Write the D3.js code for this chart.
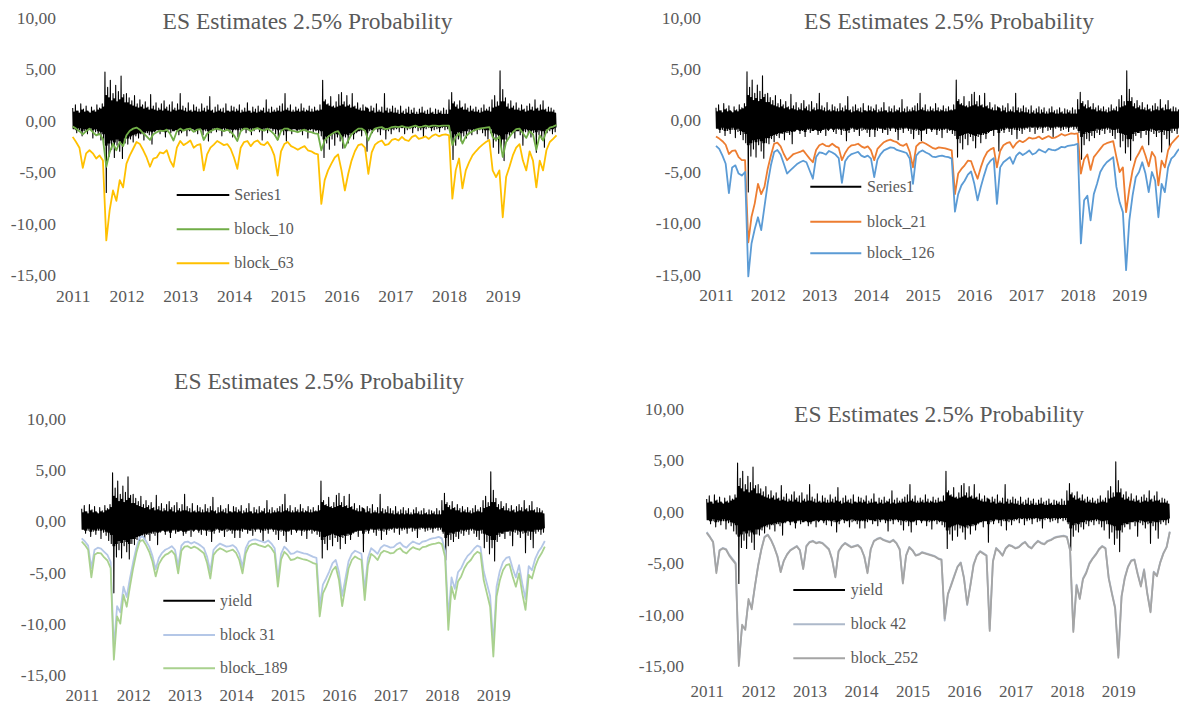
<!DOCTYPE html>
<html><head><meta charset="utf-8">
<script src="https://cdn.jsdelivr.net/npm/d3@7"></script>
<style>html,body{margin:0;padding:0;background:#fff;}svg{display:block;}</style>
</head><body><svg id="c" width="1179" height="705"></svg>
<script>
// ---------- data ----------
const yearTicks = [2011, 2012, 2013, 2014, 2015, 2016, 2017, 2018, 2019];
const valueTicks = [-15, -10, -5, 0, 5, 10];
const chartTitle = "ES Estimates 2.5% Probability";

// daily yield, summarised per 1/20 year (2011.00 ... 2019.95): upper spike, lower spike, dense core swing
const yieldHi = [
 1.2, 1.5, 0.9, 1.6, 1.1, 1.4, 0.8, 1.3, 1.0, 1.5, 1.2, 1.6, 4.7, 3.2, 3.9, 2.6, 3.4, 2.8, 4.3, 2.5,
 2.6, 2.2, 1.9, 2.4, 1.6, 2.0, 1.5, 1.8, 1.3, 2.5, 1.4, 1.7, 1.2, 1.6, 1.9, 1.3, 1.5, 1.8, 1.2, 1.6,
 2.6, 1.4, 1.2, 1.7, 1.0, 1.5, 1.3, 1.1, 1.6, 1.2, 1.4, 2.3, 1.0, 1.3, 1.5, 1.1, 1.2, 1.6, 0.9, 1.4,
 1.3, 1.1, 1.5, 1.0, 1.2, 1.7, 0.9, 1.3, 1.1, 1.4, 1.0, 1.2, 2.0, 1.1, 1.3, 1.0, 1.2, 1.4, 1.6, 2.6,
 1.2, 1.5, 1.0, 1.3, 1.1, 1.6, 1.2, 1.0, 1.4, 1.1, 1.3, 1.0, 1.5, 3.9, 2.0, 1.6, 2.3, 1.4, 1.8, 2.5,
 2.7, 1.8, 2.4, 1.5, 2.6, 1.4, 1.7, 1.2, 1.5, 1.3, 1.1, 1.4, 1.2, 1.6, 1.0, 1.3, 2.6, 1.2, 1.1, 1.4,
 1.2, 1.0, 1.4, 0.9, 1.1, 1.3, 1.0, 1.2, 0.8, 1.1, 1.3, 0.9, 1.0, 1.2, 0.8, 1.1, 1.0, 0.9, 1.2, 1.0,
 2.0, 2.7, 1.8, 1.5, 1.9, 1.3, 1.6, 1.2, 1.4, 1.1, 1.3, 1.0, 1.2, 1.5, 1.1, 1.3, 2.0, 2.4, 1.8, 4.8,
 3.0, 2.2, 1.6, 1.9, 1.4, 1.7, 1.2, 1.5, 1.1, 1.4, 1.6, 1.3, 2.0, 1.2, 1.5, 1.9, 1.1, 1.3, 1.2, 1.0
];
const yieldLo = [
 -0.8, -1.2, -0.9, -1.5, -1.0, -1.3, -0.9, -1.7, -1.1, -1.4, -1.9, -2.2, -7.0, -3.5, -2.8, -3.6, -2.4, -3.0, -3.7, -2.2,
 -2.3, -1.8, -2.1, -1.5, -1.7, -1.2, -1.9, -1.0, -1.4, -2.3, -1.1, -0.9, -1.3, -1.0, -1.6, -0.8, -1.2, -1.0, -0.9, -1.4,
 -1.2, -0.9, -1.5, -1.0, -0.8, -1.1, -1.3, -0.9, -1.4, -1.0, -2.0, -1.2, -0.8, -1.1, -0.9, -1.5, -1.0, -0.8, -1.2, -1.6,
 -0.9, -1.6, -1.0, -0.8, -1.2, -0.9, -1.4, -1.0, -0.8, -1.1, -1.9, -0.9, -1.2, -0.8, -1.0, -1.3, -1.8, -1.0, -1.4, -2.0,
 -1.0, -1.3, -0.8, -1.1, -0.9, -1.4, -1.0, -1.7, -0.9, -1.2, -1.0, -1.3, -1.5, -3.6, -2.2, -2.8, -1.8, -2.4, -1.6, -2.0,
 -2.7, -1.6, -2.2, -1.4, -1.8, -1.2, -1.0, -1.5, -0.9, -3.0, -1.0, -1.2, -0.8, -1.1, -1.4, -0.9, -1.8, -1.0, -1.3, -0.9,
 -0.8, -1.1, -0.7, -1.3, -0.9, -0.8, -1.2, -0.7, -1.0, -0.9, -1.6, -0.8, -0.7, -1.0, -0.9, -0.8, -1.1, -0.7, -0.9, -0.8,
 -1.2, -3.8, -2.4, -1.8, -2.0, -1.5, -1.7, -1.2, -1.4, -1.0, -1.3, -0.9, -1.2, -1.5, -1.8, -1.2, -2.6, -2.0, -3.2, -2.6,
 -3.9, -2.0, -1.5, -1.2, -1.7, -1.0, -1.4, -2.4, -1.1, -1.3, -1.6, -1.2, -3.1, -1.4, -1.8, -2.6, -1.2, -1.0, -1.3, -1.1
];
const yieldCore = [
 0.8, 0.9, 0.7, 1.0, 0.8, 0.9, 0.7, 0.9, 0.8, 1.0, 1.1, 1.3, 2.4, 2.2, 1.9, 2.1, 1.8, 2.0, 2.2, 1.7,
 1.7, 1.5, 1.4, 1.3, 1.2, 1.3, 1.1, 1.2, 1.0, 1.1, 1.0, 0.9, 1.0, 0.9, 1.1, 0.9, 0.8, 1.0, 0.9, 1.0,
 1.0, 0.9, 0.8, 0.9, 0.8, 0.9, 0.8, 0.8, 0.9, 0.8, 1.0, 0.9, 0.7, 0.8, 0.9, 0.8, 0.7, 0.9, 0.8, 0.9,
 0.8, 0.9, 0.7, 0.8, 0.8, 0.9, 0.7, 0.8, 0.7, 0.8, 0.9, 0.7, 0.8, 0.7, 0.8, 0.8, 0.9, 0.8, 0.9, 1.0,
 0.9, 0.8, 0.8, 0.9, 0.8, 0.9, 0.8, 0.9, 0.8, 0.8, 0.9, 0.9, 1.0, 1.8, 1.5, 1.4, 1.3, 1.2, 1.3, 1.4,
 1.5, 1.3, 1.4, 1.2, 1.3, 1.1, 1.0, 0.9, 0.9, 1.2, 0.8, 0.9, 0.7, 0.8, 0.8, 0.7, 0.9, 0.7, 0.8, 0.7,
 0.7, 0.6, 0.7, 0.6, 0.7, 0.6, 0.7, 0.6, 0.6, 0.7, 0.7, 0.6, 0.6, 0.7, 0.6, 0.6, 0.7, 0.6, 0.6, 0.6,
 1.0, 1.6, 1.3, 1.1, 1.2, 1.0, 1.0, 0.8, 0.9, 0.8, 0.8, 0.7, 0.8, 0.9, 0.9, 0.8, 1.2, 1.3, 1.4, 1.8,
 1.8, 1.3, 1.1, 1.2, 1.0, 1.0, 0.9, 1.0, 0.8, 0.9, 1.0, 0.9, 1.1, 0.9, 1.0, 1.0, 0.8, 0.8, 0.8, 0.7
];

// ES estimates, one value per 1/16 year (2011.0000 ... 2020.0000)
const block_10 = [
 -0.6, -0.8, -1.05, -1.35, -1.05, -0.8, -1.15, -1.45, -1.3, -1.8, -4.5, -3.1, -2.25, -2.9, -2.1, -2.5,
 -1.45, -1.0, -0.8, -0.7, -0.9, -1.25, -1.55, -1.9, -1.35, -1.15, -1.0, -1.05, -0.9, -1.3, -1.95, -1.05,
 -0.8, -1.0, -0.85, -0.8, -1.1, -0.9, -0.85, -1.9, -1.3, -1.05, -0.9, -0.8, -0.9, -1.05, -0.9, -1.1,
 -1.45, -2.0, -1.05, -0.8, -0.8, -1.05, -0.85, -0.75, -0.9, -1.0, -0.8, -1.05, -1.35, -1.9, -1.05, -0.8,
 -0.8, -1.0, -1.05, -1.15, -1.0, -0.9, -1.1, -1.15, -1.25, -1.3, -2.9, -1.95, -1.6, -1.35, -1.15, -1.05,
 -1.6, -2.65, -1.95, -1.35, -1.05, -0.8, -0.8, -1.0, -1.95, -1.15, -0.8, -0.7, -0.65, -0.85, -0.8, -0.65,
 -0.6, -0.65, -0.55, -0.65, -0.7, -0.6, -0.5, -0.65, -0.6, -0.5, -0.6, -0.5, -0.5, -0.55, -0.5, -0.5,
 -0.5, -2.4, -1.6, -1.25, -2.25, -1.55, -1.25, -1.05, -0.9, -0.8, -0.75, -0.7, -0.65, -1.6, -1.9, -1.55,
 -3.55, -2.1, -1.6, -1.15, -0.85, -0.8, -1.25, -1.7, -1.05, -1.35, -2.85, -1.45, -1.95, -1.05, -0.7, -0.6,
 -0.45
];
const block_63 = [
 -1.6, -2.1, -2.65, -4.6, -3.2, -2.9, -3.2, -3.7, -3.4, -3.9, -11.65, -8.7, -6.8, -7.8, -5.8, -6.5,
 -4.2, -3.4, -2.75, -2.1, -2.3, -2.9, -3.6, -4.5, -3.7, -3.6, -3.1, -3.2, -2.9, -3.9, -4.5, -2.65,
 -2.0, -2.4, -2.2, -1.95, -2.65, -2.4, -2.3, -4.85, -3.3, -2.65, -2.35, -2.0, -2.2, -2.4, -2.3, -2.75,
 -3.6, -4.7, -2.65, -2.1, -2.0, -2.5, -2.1, -1.95, -2.3, -2.4, -2.1, -2.6, -3.4, -5.35, -3.0, -2.3,
 -2.1, -2.5, -2.65, -2.85, -2.65, -2.5, -2.9, -3.0, -3.2, -3.3, -8.1, -5.8, -4.85, -4.2, -3.6, -3.3,
 -4.85, -6.8, -5.2, -3.9, -3.0, -2.4, -2.3, -2.65, -5.2, -3.1, -2.35, -2.1, -1.95, -2.4, -2.3, -1.9,
 -1.8, -1.95, -1.6, -1.9, -2.0, -1.6, -1.45, -1.8, -1.7, -1.55, -1.8, -1.5, -1.35, -1.55, -1.4, -1.35,
 -1.45, -7.6, -4.85, -3.7, -6.6, -4.85, -4.05, -3.4, -3.0, -2.65, -2.35, -2.1, -1.9, -4.85, -5.5, -4.85,
 -9.4, -5.5, -4.5, -3.4, -2.65, -2.3, -3.9, -4.85, -3.0, -3.9, -6.5, -3.9, -4.85, -2.9, -2.1, -1.8,
 -1.45
];
const block_21 = [
 -1.6, -1.8, -2.05, -2.4, -3.3, -3.0, -2.95, -3.6, -3.9, -3.9, -11.9, -9.4, -8.1, -6.2, -7.2, -6.5,
 -4.75, -3.45, -2.3, -2.2, -2.55, -3.3, -3.9, -3.6, -3.3, -3.2, -3.1, -2.95, -3.35, -3.75, -4.1, -2.9,
 -2.45, -2.3, -2.5, -2.55, -2.3, -2.55, -2.7, -3.9, -3.2, -2.7, -2.45, -2.4, -2.3, -2.55, -2.7, -2.55,
 -2.95, -3.9, -2.8, -2.45, -2.15, -2.0, -1.9, -2.05, -2.15, -2.4, -2.5, -2.3, -3.1, -4.6, -2.55, -2.25,
 -2.15, -2.3, -2.5, -2.7, -2.8, -2.65, -2.7, -2.75, -2.85, -2.95, -7.2, -5.2, -4.75, -4.4, -3.95, -4.0,
 -4.9, -5.7, -4.6, -3.7, -3.1, -2.85, -2.7, -4.6, -3.0, -2.45, -2.25, -2.15, -2.7, -2.25, -2.0, -2.15,
 -1.95, -1.7, -1.8, -1.75, -1.6, -1.85, -1.7, -1.55, -1.75, -1.7, -1.55, -1.35, -1.5, -1.4, -1.3, -1.35,
 -1.3, -5.2, -3.8, -3.35, -4.85, -3.6, -3.2, -2.8, -2.4, -2.25, -2.15, -2.05, -3.6, -5.05, -4.6, -8.95,
 -6.7, -4.9, -3.75, -3.2, -2.55, -3.45, -4.5, -3.1, -3.6, -6.35, -3.95, -4.6, -2.95, -2.3, -1.95, -1.6,
 -1.4
];
const block_126 = [
 -2.5, -2.8, -3.45, -4.25, -7.1, -4.6, -4.4, -5.2, -5.4, -5.05, -15.2, -12.0, -10.6, -9.45, -10.7, -8.45,
 -6.2, -4.4, -3.1, -2.9, -3.35, -4.25, -5.2, -4.9, -4.6, -4.3, -4.1, -3.95, -4.1, -4.9, -5.7, -3.6,
 -3.15, -3.2, -3.35, -3.0, -3.15, -3.35, -3.7, -6.1, -4.0, -3.55, -3.3, -3.2, -3.1, -3.45, -3.6, -3.45,
 -3.75, -5.55, -3.85, -3.3, -2.95, -2.8, -2.65, -2.7, -2.9, -3.0, -3.1, -3.2, -3.75, -6.2, -3.45, -3.1,
 -2.95, -3.15, -3.3, -3.55, -3.6, -3.5, -3.45, -3.55, -3.6, -3.75, -8.9, -7.2, -6.35, -5.9, -5.3, -5.0,
 -6.2, -7.8, -6.5, -5.4, -4.4, -3.95, -3.7, -8.15, -4.6, -4.1, -3.85, -3.6, -4.25, -3.45, -3.15, -3.4,
 -3.2, -2.95, -3.35, -3.2, -2.85, -3.0, -3.15, -2.8, -2.9, -2.95, -2.8, -2.6, -2.65, -2.5, -2.45, -2.4,
 -2.3, -12.0, -7.8, -7.35, -9.75, -7.2, -6.2, -5.05, -4.5, -4.1, -3.85, -3.6, -6.5, -8.0, -8.95, -14.6,
 -9.75, -7.35, -5.55, -5.05, -4.1, -5.2, -7.0, -5.05, -5.9, -9.45, -6.2, -7.0, -4.6, -3.75, -3.45, -2.95,
 -2.7
];
const block_31 = [
 -1.7, -2.0, -2.4, -4.6, -2.8, -2.6, -2.7, -3.0, -3.3, -4.0, -12.4, -8.3, -8.9, -6.4, -7.4, -5.6,
 -4.0, -2.6, -1.6, -1.5, -1.95, -2.5, -3.4, -4.7, -3.6, -3.1, -2.8, -2.65, -2.45, -2.8, -4.4, -2.4,
 -2.05, -2.0, -2.2, -2.05, -2.2, -2.4, -2.65, -3.5, -4.9, -2.8, -2.45, -2.2, -2.35, -2.5, -2.45, -2.35,
 -2.6, -3.2, -4.5, -2.65, -2.0, -1.85, -1.8, -1.9, -2.0, -2.1, -1.9, -2.2, -2.65, -5.6, -3.2, -2.5,
 -2.8, -3.2, -3.15, -2.95, -3.05, -3.15, -3.2, -3.35, -3.5, -3.6, -8.3, -6.2, -5.6, -4.9, -4.1, -3.8,
 -5.0, -7.3, -5.6, -3.9, -3.2, -2.9, -3.05, -3.2, -6.8, -3.6, -2.65, -2.9, -3.2, -2.6, -2.35, -2.45,
 -2.6, -2.55, -2.25, -2.1, -2.45, -2.6, -2.25, -2.0, -2.15, -2.25, -2.0, -1.95, -1.8, -1.7, -1.65, -1.55,
 -1.7, -2.9, -9.4, -5.5, -6.6, -5.0, -4.6, -3.9, -3.4, -3.1, -2.7, -2.4, -2.55, -4.9, -6.1, -7.3,
 -12.0, -6.4, -4.9, -4.0, -3.6, -3.5, -4.6, -5.5, -4.3, -6.1, -7.6, -4.4, -4.8, -3.7, -3.0, -2.55,
 -1.95
];
const block_189 = [
 -2.0, -2.35, -2.8, -5.5, -3.3, -3.1, -3.15, -3.55, -3.85, -4.6, -13.5, -9.3, -10.0, -7.2, -8.35, -6.4,
 -4.6, -3.1, -2.0, -1.85, -2.35, -3.0, -3.95, -5.4, -4.2, -3.65, -3.3, -3.15, -2.9, -3.3, -5.1, -2.9,
 -2.5, -2.45, -2.65, -2.5, -2.65, -2.9, -3.15, -4.1, -5.6, -3.3, -2.9, -2.65, -2.8, -3.0, -2.9, -2.8,
 -3.1, -3.8, -5.1, -3.15, -2.45, -2.25, -2.2, -2.35, -2.45, -2.55, -2.35, -2.65, -3.15, -6.4, -3.75, -3.0,
 -3.3, -3.8, -3.75, -3.55, -3.65, -3.75, -3.8, -3.95, -4.1, -4.2, -9.3, -7.05, -6.4, -5.6, -4.8, -4.45,
 -5.75, -8.3, -6.4, -4.6, -3.8, -3.45, -3.65, -3.8, -7.7, -4.3, -3.2, -3.45, -3.8, -3.15, -2.9, -3.0,
 -3.15, -3.1, -2.8, -2.65, -3.0, -3.15, -2.8, -2.55, -2.7, -2.8, -2.55, -2.5, -2.35, -2.25, -2.2, -2.1,
 -2.25, -3.5, -10.6, -6.4, -7.6, -5.9, -5.4, -4.6, -4.1, -3.8, -3.3, -3.0, -3.15, -5.75, -7.05, -8.35,
 -13.2, -7.35, -5.8, -4.8, -4.3, -4.2, -5.4, -6.4, -5.1, -7.05, -8.65, -5.25, -5.6, -4.45, -3.65, -3.15,
 -2.5
];
const block_42 = [
 -2.0, -2.45, -2.95, -5.8, -3.75, -3.55, -3.65, -4.2, -4.6, -5.0, -14.6, -11.2, -11.3, -8.7, -9.3, -7.3,
 -5.2, -3.65, -2.45, -2.25, -2.75, -3.45, -4.3, -5.8, -4.75, -4.15, -3.75, -3.55, -3.35, -3.75, -5.5, -3.35,
 -2.95, -2.85, -3.05, -2.95, -3.05, -3.35, -3.65, -4.6, -6.3, -3.85, -3.35, -3.05, -3.25, -3.45, -3.35, -3.25,
 -3.55, -4.35, -5.9, -3.65, -2.85, -2.65, -2.55, -2.75, -2.85, -2.95, -2.75, -3.05, -3.65, -6.9, -4.25, -3.45,
 -3.75, -4.25, -4.15, -3.95, -4.05, -4.15, -4.25, -4.35, -4.55, -4.65, -10.6, -8.1, -7.1, -6.2, -5.35, -4.95,
 -6.4, -9.1, -7.1, -5.1, -4.25, -3.85, -4.05, -4.25, -11.4, -4.8, -3.55, -3.85, -4.25, -3.55, -3.25, -3.35,
 -3.55, -3.45, -3.15, -2.95, -3.35, -3.55, -3.15, -2.85, -3.05, -3.15, -2.85, -2.75, -2.55, -2.45, -2.4, -2.35,
 -2.45, -3.75, -11.5, -7.1, -8.4, -6.5, -5.9, -5.0, -4.55, -4.15, -3.65, -3.35, -3.55, -6.4, -7.9, -9.3,
 -14.0, -8.2, -6.4, -5.35, -4.75, -4.65, -6.0, -7.2, -5.6, -7.9, -9.7, -5.85, -6.2, -4.95, -4.05, -3.45,
 -1.95
];
const block_252 = [
 -2.1, -2.5, -3.0, -6.0, -3.8, -3.6, -3.7, -4.3, -4.7, -5.1, -15.0, -11.0, -11.5, -8.5, -9.5, -7.2,
 -5.3, -3.7, -2.5, -2.3, -2.8, -3.5, -4.4, -5.9, -4.8, -4.2, -3.8, -3.6, -3.4, -3.8, -5.6, -3.4,
 -3.0, -2.9, -3.1, -3.0, -3.1, -3.4, -3.7, -4.7, -6.4, -3.9, -3.4, -3.1, -3.3, -3.5, -3.4, -3.3,
 -3.6, -4.4, -6.0, -3.7, -2.9, -2.7, -2.6, -2.8, -2.9, -3.0, -2.8, -3.1, -3.7, -7.0, -4.3, -3.5,
 -3.8, -4.3, -4.2, -4.0, -4.1, -4.2, -4.3, -4.4, -4.6, -4.7, -10.4, -8.0, -7.2, -6.3, -5.4, -5.0,
 -6.5, -9.0, -7.2, -5.2, -4.3, -3.9, -4.1, -4.3, -11.6, -4.9, -3.6, -3.9, -4.3, -3.6, -3.3, -3.4,
 -3.6, -3.5, -3.2, -3.0, -3.4, -3.6, -3.2, -2.9, -3.1, -3.2, -2.9, -2.8, -2.6, -2.5, -2.45, -2.4,
 -2.5, -3.8, -11.7, -7.2, -8.5, -6.6, -6.0, -5.1, -4.6, -4.2, -3.7, -3.4, -3.6, -6.5, -8.0, -9.4,
 -14.2, -8.3, -6.5, -5.4, -4.8, -4.7, -6.1, -7.3, -5.7, -8.0, -9.8, -5.9, -6.3, -5.0, -4.1, -3.5,
 -2.0
];

// ---------- build series ----------
const esDates = d3.range(block_10.length).map(i => 2011 + i / 16);
const toPts = arr => arr.map((v, i) => [esDates[i], v]);
// yield drawn as a high/low trace per bin: spike up, core swings, spike down, core swings
const yieldPts = [];
yieldHi.forEach((h, i) => {
  const t = 2011 + i / 20, w = 1 / 20 / 6, c = yieldCore[i];
  [h, -c, c, yieldLo[i], c, -c].forEach((v, k) => yieldPts.push([t + k * w, v]));
});

const FONT = "Liberation Serif, Times New Roman, Times, serif";
const GREY = "#595959";

const panels = [
  { x0: 72.7, x1: 556.5, yTop: 17.3, yBot: 275, labelRight: 56, xLabelY: 296.7, titleX: 307.5, titleY: 29.3,
    lg: { x0: 176.7, x1: 229.3, tx: 234.3, ys: [195, 229.3, 263.3] },
    series: [["Series1", yieldPts, "#000000"], ["block_10", toPts(block_10), "#70AD47"], ["block_63", toPts(block_63), "#FFC000"]] },
  { x0: 716, x1: 1181, yTop: 17.3, yBot: 274.3, labelRight: 701, xLabelY: 295, titleX: 949, titleY: 29.3,
    lg: { x0: 810.3, x1: 861.3, tx: 867, ys: [186.7, 221.7, 253.3] },
    series: [["Series1", yieldPts, "#000000"], ["block_21", toPts(block_21), "#ED7D31"], ["block_126", toPts(block_126), "#5B9BD5"]] },
  { x0: 81.7, x1: 544.8, yTop: 418.3, yBot: 675, labelRight: 66, xLabelY: 695.5, titleX: 319, titleY: 389.3,
    lg: { x0: 163.3, x1: 215, tx: 220, ys: [600.7, 635, 668.3] },
    series: [["yield", yieldPts, "#000000"], ["block 31", toPts(block_31), "#B4C7E7"], ["block_189", toPts(block_189), "#A9D18E"]] },
  { x0: 706.7, x1: 1169.8, yTop: 408.3, yBot: 666, labelRight: 684, xLabelY: 691.7, titleX: 939, titleY: 421.7,
    lg: { x0: 793.3, x1: 845, tx: 850.7, ys: [590, 624.3, 658.3] },
    series: [["yield", yieldPts, "#000000"], ["block 42", toPts(block_42), "#ADB9CA"], ["block_252", toPts(block_252), "#A5A5A5"]] }
];

const svg = d3.select("#c");
svg.append("rect").attr("width", 1179).attr("height", 705).attr("fill", "#fff");

const fmtVal = d => d3.format(".2f")(d).replace(".", ",").replace("\u2212", "-");

panels.forEach(p => {
  const x = d3.scaleLinear().domain([2011, 2020]).range([p.x0, p.x1]);
  const y = d3.scaleLinear().domain([-15, 10]).range([p.yBot, p.yTop]);
  const g = svg.append("g");

  g.append("text").attr("x", p.titleX).attr("y", p.titleY).attr("text-anchor", "middle")
    .style("font-family", FONT).style("font-size", "23.5px").attr("fill", GREY).text(chartTitle);

  const ya = g.append("g").attr("transform", `translate(${p.labelRight},0)`)
    .call(d3.axisLeft(y).tickValues(valueTicks).tickSize(0).tickPadding(0).tickFormat(fmtVal));
  ya.select(".domain").remove();
  ya.attr("color", GREY);
  ya.selectAll("text").style("font-family", FONT).style("font-size", "17.5px").attr("dy", "0.33em");

  const xa = g.append("g").attr("transform", `translate(0,${p.xLabelY})`)
    .call(d3.axisBottom(x).tickValues(yearTicks).tickSize(0).tickPadding(0).tickFormat(d3.format("d")));
  xa.select(".domain").remove();
  xa.attr("color", GREY);
  xa.selectAll("text").style("font-family", FONT).style("font-size", p.xLabelY > 690 ? "17px" : "17.5px")
    .attr("y", 0).attr("dy", "0.33em");

  const line = d3.line().x(d => x(d[0])).y(d => y(d[1]));
  p.series.forEach((s, k) => {
    g.append("path").datum(s[1]).attr("d", line).attr("fill", "none")
      .attr("stroke", s[2]).attr("stroke-width", k === 0 ? 1.1 : 1.8)
      .attr("stroke-linejoin", "round");
  });

  p.series.forEach((s, k) => {
    const ly = p.lg.ys[k];
    g.append("line").attr("x1", p.lg.x0).attr("x2", p.lg.x1).attr("y1", ly).attr("y2", ly)
      .attr("stroke", s[2]).attr("stroke-width", 2);
    g.append("text").attr("x", p.lg.tx).attr("y", ly).attr("dy", "0.3em")
      .style("font-family", FONT).style("font-size", "16px").attr("fill", GREY).text(s[0]);
  });
});
</script>
</body></html>
